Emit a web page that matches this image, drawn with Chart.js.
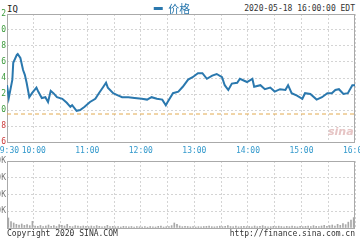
<!DOCTYPE html>
<html>
<head>
<meta charset="utf-8">
<script src="https://cdn.jsdelivr.net/npm/chart.js@4.4.0/dist/chart.umd.min.js"></script>
<style>
  body { margin: 0; background: #fff; }
  #wrap { position: relative; width: 360px; height: 240px; overflow: hidden; background: #fff; }
  .txt { position: absolute; font-family: "DejaVu Sans Mono", monospace; font-size: 8px; line-height: 10px; color: #333; white-space: nowrap; }
  canvas { position: absolute; }
</style>
</head>
<body>
<div id="wrap">
  <div class="txt" style="left:7px;top:4px;font-size:9px;color:#222">IQ</div>
  <div class="txt" style="right:5px;top:4px">2020-05-18 16:00:00 EDT</div>
  <canvas id="priceChart" width="410" height="160" style="left:-33px;top:0"></canvas>
  <div class="txt" style="left:328px;top:127px;font-family:'DejaVu Sans';font-size:11px;font-style:italic;font-weight:bold;color:#e6c4c4">sina</div>
  <canvas id="volChart" width="389" height="79" style="left:-33px;top:155px"></canvas>
  <div class="txt" style="left:7px;top:229px">Copyright 2020 SINA.COM</div>
  <div class="txt" style="right:5px;top:229px">http://finance.sina.com.cn</div>
</div>
<script>
// minutes after 9:30 and price
const priceMinutes = [0, 2, 6, 7, 11, 12, 15, 18, 20, 22, 25, 28, 33, 35, 39, 43, 46, 49, 52, 56,
  62, 67, 71, 73, 78, 82, 87, 93, 99, 103, 108, 111, 113, 119, 123, 129, 136, 143, 151, 157,
  162, 168, 174, 178, 180, 186, 192, 197, 203, 208, 214, 219, 224, 230, 235, 241, 244, 248, 252, 258,
  261, 269, 275, 277, 284, 289, 295, 300, 306, 312, 315, 319, 325, 331, 334, 340, 347, 353, 359, 364,
  368, 372, 377, 382, 387, 390];
const prices = [17.31, 17.15, 17.38, 17.59, 17.69, 17.70, 17.65, 17.50, 17.44, 17.34, 17.16, 17.21, 17.28, 17.23, 17.15, 17.16, 17.10, 17.24, 17.21, 17.16,
  17.14, 17.09, 17.04, 17.06, 16.99, 17.00, 17.04, 17.10, 17.14, 17.21, 17.29, 17.34, 17.28, 17.21, 17.19, 17.16, 17.16, 17.15, 17.14, 17.13,
  17.16, 17.14, 17.13, 17.06, 17.10, 17.21, 17.23, 17.29, 17.38, 17.41, 17.46, 17.46, 17.39, 17.43, 17.45, 17.41, 17.31, 17.25, 17.33, 17.34,
  17.39, 17.35, 17.39, 17.29, 17.31, 17.26, 17.28, 17.23, 17.26, 17.25, 17.31, 17.21, 17.18, 17.14, 17.21, 17.20, 17.13, 17.16, 17.21, 17.21,
  17.25, 17.26, 17.20, 17.21, 17.31, 17.31];
const prevClose = 16.95;
const priceMin = 16.6, priceMax = 18.2, priceStep = 0.2;

// volume per 3 minutes, in thousands
const volumes = [
  60, 38, 30, 22, 18, 24, 16, 20, 14, 40,
  12, 10, 15, 8, 12, 18, 10, 14, 9, 20,
  16, 12, 22, 10, 8, 14, 11, 9, 12, 10,
  8, 12, 9, 14, 10, 7, 9, 16, 8, 10,
  7, 9, 6, 10, 8, 7, 9, 6, 8, 7,
  6, 8, 5, 9, 7, 6, 10, 12, 6, 8,
  9, 14, 30, 22, 12, 8, 10, 9, 7, 8,
  6, 8, 7, 9, 10, 12, 8, 7, 9, 11,
  8, 10, 14, 9, 8, 12, 7, 9, 10, 8,
  9, 7, 12, 8, 10, 14, 9, 7, 8, 10,
  8, 11, 9, 7, 10, 8, 12, 9, 7, 10,
  8, 10, 12, 9, 14, 10, 8, 12, 16, 10,
  14, 18, 12, 22, 16, 26, 20, 35, 48, 62
];
const volBucket = 3;
const volTicks = [0, 100, 200, 300, 400];

const lineColor = '#2a78ae';
const upColor = '#3a9a3a';
const downColor = '#cc3a3a';
const mono = { family: 'DejaVu Sans Mono', size: 8 };

// gray frame round the plot area
const framePlugin = {
    id: 'frame',
    beforeDatasetsDraw(chart) {
        const { ctx, chartArea: a } = chart;
        ctx.save();
        ctx.strokeStyle = '#aaa';
        ctx.lineWidth = 1;
        ctx.strokeRect(a.left + 0.5, a.top + 0.5, a.right - a.left - 1, a.bottom - a.top);
        ctx.restore();
    }
};

function clockLabel(m) {
    const t = 9 * 60 + 30 + m;
    const h = Math.floor(t / 60), mm = t % 60;
    return String(h).padStart(2, '0') + ':' + String(mm).padStart(2, '0');
}

const xGrid = { color: '#d4d4d4', drawTicks: false };
const dashBorder = { display: false, dash: [2, 2] };

new Chart(document.getElementById('priceChart'), {
    type: 'line',
    data: {
        datasets: [{
            label: '价格',
            data: priceMinutes.map((m, i) => ({ x: m, y: prices[i] })),
            borderColor: lineColor,
            backgroundColor: lineColor,
            borderWidth: 2,
            pointRadius: 0,
            tension: 0
        }, {
            label: 'prev',
            data: [{ x: 0, y: prevClose }, { x: 390, y: prevClose }],
            borderColor: '#e2aa50',
            borderWidth: 1,
            borderDash: [4, 3],
            pointRadius: 0
        }]
    },
    plugins: [framePlugin],
    options: {
        responsive: false,
        animation: false,
        layout: { padding: 0 },
        plugins: {
            legend: {
                display: true,
                position: 'top',
                maxHeight: 14,
                labels: {
                    filter: item => {
                        item.lineWidth = 0;
                        return item.text === '价格';
                    },
                    boxWidth: 9,
                    boxHeight: 3,
                    padding: 3,
                    color: lineColor,
                    font: { family: 'Noto Sans CJK SC', size: 11 }
                }
            },
            tooltip: { enabled: false }
        },
        scales: {
            x: {
                type: 'linear',
                min: 0,
                max: 390,
                grid: xGrid,
                border: dashBorder,
                afterFit: s => { s.height = 18; },
                ticks: {
                    stepSize: 30,
                    autoSkip: false,
                    maxRotation: 0,
                    padding: 4,
                    color: '#3399cc',
                    font: mono,
                    callback: v => (v === 0 || (v + 30) % 60 === 0) ? clockLabel(v) : ''
                }
            },
            y: {
                position: 'left',
                min: priceMin,
                max: priceMax,
                grid: xGrid,
                border: dashBorder,
                afterFit: s => { s.width = 40; },
                ticks: {
                    stepSize: priceStep,
                    padding: 1,
                    font: mono,
                    color: c => c.tick.value >= prevClose ? upColor : downColor,
                    callback: v => v.toFixed(1)
                }
            },
            y2: {
                position: 'right',
                min: priceMin,
                max: priceMax,
                grid: { display: false },
                border: { display: false },
                afterFit: s => { s.width = 22; },
                ticks: {
                    stepSize: priceStep,
                    padding: 2,
                    font: mono,
                    color: c => c.tick.value >= prevClose ? upColor : downColor,
                    callback: v => {
                        const p = (v - prevClose) / prevClose * 100;
                        return (p >= 0 ? '+' : '') + p.toFixed(2) + '%';
                    }
                }
            }
        }
    }
});

new Chart(document.getElementById('volChart'), {
    type: 'bar',
    data: {
        datasets: [{
            label: '成交量',
            data: volumes.map((v, i) => ({ x: i * volBucket + 1.5, y: v })),
            backgroundColor: '#a8a8a8',
            barThickness: 1
        }]
    },
    plugins: [framePlugin],
    options: {
        responsive: false,
        animation: false,
        layout: { padding: { top: 6, bottom: 6, left: 0, right: 1 } },
        plugins: { legend: { display: false }, tooltip: { enabled: false } },
        scales: {
            x: {
                type: 'linear',
                min: 0,
                max: 390,
                offset: false,
                grid: { color: '#d4d4d4', drawTicks: false, offset: false },
                border: dashBorder,
                ticks: { display: false, stepSize: 30 }
            },
            y: {
                min: volTicks[0],
                max: volTicks[volTicks.length - 1],
                grid: xGrid,
                border: dashBorder,
                afterFit: s => { s.width = 40; },
                ticks: {
                    stepSize: 100,
                    padding: 1,
                    font: mono,
                    color: '#777',
                    callback: v => v > 0 ? v + 'K' : ''
                }
            }
        }
    }
});
</script>
</body>
</html>
